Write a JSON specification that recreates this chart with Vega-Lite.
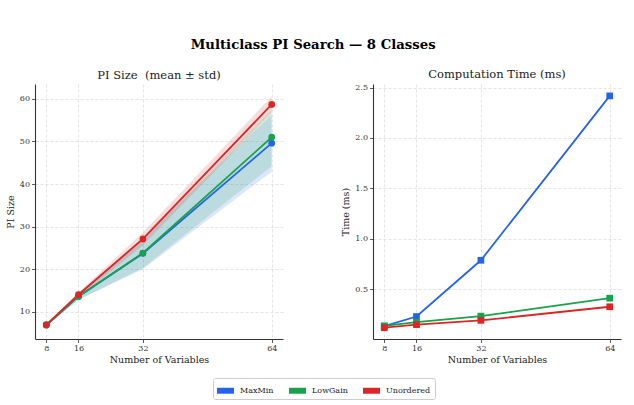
{
  "$schema": "https://vega.github.io/schema/vega-lite/v6.json",
  "padding": {"left": 5, "top": 37, "right": 5, "bottom": 5},
  "title": {"text": "Multiclass PI Search — 8 Classes", "font": "DejaVu Serif", "fontSize": 13.25, "fontWeight": "bold", "anchor": "middle", "color": "#000", "offset": 17},
  "datasets": {
    "pi": [
      {"n": 8, "method": "MaxMin", "mean": 6.9, "lo": 6.6, "hi": 7.2},
      {"n": 16, "method": "MaxMin", "mean": 13.6, "lo": 12.8, "hi": 14.4},
      {"n": 32, "method": "MaxMin", "mean": 23.7, "lo": 20.0, "hi": 27.4},
      {"n": 64, "method": "MaxMin", "mean": 49.6, "lo": 42.9, "hi": 56.3},
      {"n": 8, "method": "LowGain", "mean": 6.9, "lo": 6.6, "hi": 7.2},
      {"n": 16, "method": "LowGain", "mean": 13.6, "lo": 12.8, "hi": 14.4},
      {"n": 32, "method": "LowGain", "mean": 23.8, "lo": 20.3, "hi": 27.3},
      {"n": 64, "method": "LowGain", "mean": 51.0, "lo": 44.2, "hi": 57.5},
      {"n": 8, "method": "Unordered", "mean": 6.9, "lo": 6.6, "hi": 7.2},
      {"n": 16, "method": "Unordered", "mean": 14.0, "lo": 13.4, "hi": 14.6},
      {"n": 32, "method": "Unordered", "mean": 27.1, "lo": 25.6, "hi": 28.6},
      {"n": 64, "method": "Unordered", "mean": 58.7, "lo": 56.8, "hi": 60.6}
    ],
    "time": [
      {"n": 8, "method": "MaxMin", "t": 0.132},
      {"n": 16, "method": "MaxMin", "t": 0.228},
      {"n": 32, "method": "MaxMin", "t": 0.786},
      {"n": 64, "method": "MaxMin", "t": 2.417},
      {"n": 8, "method": "LowGain", "t": 0.135},
      {"n": 16, "method": "LowGain", "t": 0.172},
      {"n": 32, "method": "LowGain", "t": 0.232},
      {"n": 64, "method": "LowGain", "t": 0.41},
      {"n": 8, "method": "Unordered", "t": 0.117},
      {"n": 16, "method": "Unordered", "t": 0.147},
      {"n": 32, "method": "Unordered", "t": 0.19},
      {"n": 64, "method": "Unordered", "t": 0.325}
    ]
  },
  "spacing": 57,
  "hconcat": [
    {
      "width": 248,
      "height": 255,
      "title": {"text": "PI Size\u00a0 (mean ± std)"},
      "data": {"name": "pi"},
      "encoding": {
        "x": {"field": "n", "type": "quantitative", "scale": {"domain": [5.2, 66.8], "nice": false, "zero": false}, "axis": {"values": [8, 16, 32, 64], "title": "Number of Variables"}},
        "color": {"field": "method", "type": "nominal", "scale": {"domain": ["MaxMin", "LowGain", "Unordered"], "range": ["#2563eb", "#16a34a", "#dc2626"]}, "legend": null}
      },
      "layer": [
        {
          "mark": {"type": "area", "opacity": 0.16},
          "encoding": {
            "y": {"field": "lo", "type": "quantitative", "scale": {"domain": [3.6, 63.5], "nice": false, "zero": false}, "axis": {"values": [10, 20, 30, 40, 50, 60], "title": "PI Size"}},
            "y2": {"field": "hi"},
            "color": {"field": "method", "type": "nominal", "legend": {"orient": "none", "direction": "horizontal", "legendX": 178, "legendY": 294}}
          }
        },
        {
          "mark": {"type": "line", "strokeWidth": 1.8},
          "encoding": {"y": {"field": "mean", "type": "quantitative"}}
        },
        {
          "mark": {"type": "point", "filled": true, "opacity": 1, "size": 45, "shape": "circle"},
          "encoding": {"y": {"field": "mean", "type": "quantitative"}}
        }
      ]
    },
    {
      "width": 248,
      "height": 255,
      "title": {"text": "Computation Time (ms)"},
      "data": {"name": "time"},
      "encoding": {
        "x": {"field": "n", "type": "quantitative", "scale": {"domain": [5.2, 66.8], "nice": false, "zero": false}, "axis": {"values": [8, 16, 32, 64], "title": "Number of Variables"}},
        "y": {"field": "t", "type": "quantitative", "scale": {"domain": [0.005, 2.535], "nice": false, "zero": false}, "axis": {"values": [0.5, 1.0, 1.5, 2.0, 2.5], "format": ".1f", "title": "Time (ms)"}},
        "color": {"field": "method", "type": "nominal", "scale": {"domain": ["MaxMin", "LowGain", "Unordered"], "range": ["#2563eb", "#16a34a", "#dc2626"]}, "legend": null}
      },
      "layer": [
        {"mark": {"type": "line", "strokeWidth": 1.8}},
        {"mark": {"type": "point", "filled": true, "opacity": 1, "size": 45, "shape": "square"}}
      ]
    }
  ],
  "config": {
    "font": "DejaVu Serif",
    "view": {"stroke": null},
    "title": {"font": "DejaVu Serif", "fontSize": 11.5, "fontWeight": "normal", "color": "#222", "offset": 3},
    "axis": {
      "labelFont": "DejaVu Serif", "labelFontSize": 8, "labelColor": "#333",
      "titleFont": "DejaVu Serif", "titleFontSize": 9.5, "titleFontWeight": "normal", "titleColor": "#222",
      "domainColor": "#333", "domainWidth": 1.1, "tickColor": "#333", "tickSize": 3.5, "tickWidth": 0.8,
      "labelPadding": 2,
      "gridColor": "#d4d4d4", "gridDash": [3, 2], "gridWidth": 0.6
    },
    "axisX": {"titlePadding": 2},
    "axisY": {"titlePadding": 4},
    "legend": {
      "symbolType": "M-1,-0.35H1V0.35H-1Z", "symbolSize": 289, "symbolOpacity": 1, "symbolStrokeWidth": 0,
      "labelFont": "DejaVu Serif", "labelFontSize": 8, "labelColor": "#222", "labelOffset": 6,
      "columnPadding": 15, "strokeColor": "#ccc", "padding": 4, "cornerRadius": 2, "fillColor": "#fff", "title": null
    }
  }
}
